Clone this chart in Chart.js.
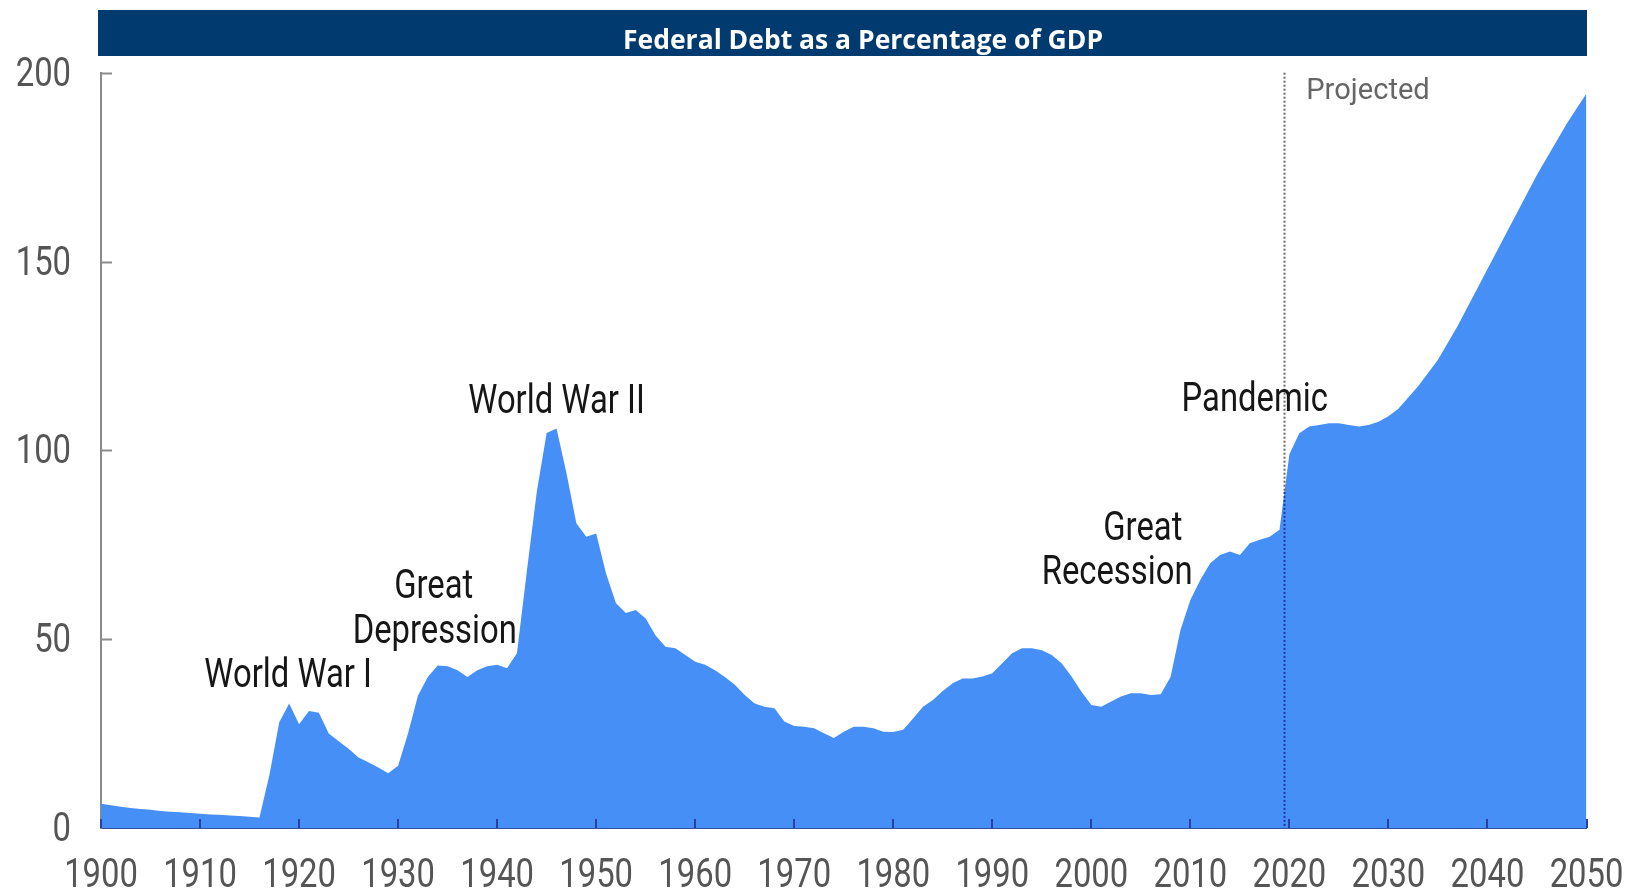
<!DOCTYPE html>
<html>
<head>
<meta charset="utf-8">
<title>Federal Debt as a Percentage of GDP</title>
<script src="https://cdn.jsdelivr.net/npm/chart.js@4/dist/chart.umd.min.js"></script>
<style>
  html, body { margin: 0; padding: 0; background: #ffffff; }
  #wrap { width: 1629px; height: 889px; }
</style>
</head>
<body>
<div id="wrap"><canvas id="debt" width="1629" height="889"></canvas></div>
<script>
// Federal debt held by the public, percent of GDP
const startYear = 1900;

// Actual, 1900-2019
const historical = [
  6.4, 6.0, 5.6, 5.3, 5.0, 4.8, 4.5, 4.3, 4.2, 4.0,          // 1900s
  3.8, 3.6, 3.5, 3.3, 3.2, 3.0, 2.8, 14, 28, 33,              // 1910s
  27.5, 31, 30.5, 25, 23, 21, 18.7, 17.4, 16, 14.5,           // 1920s
  16.5, 25, 35, 40, 43, 42.8, 41.8, 40, 41.8, 42.8,           // 1930s
  43.2, 42.3, 46.3, 68, 89, 104.6, 105.8, 94, 80.7, 77.1,     // 1940s
  78, 67.4, 59.5, 56.9, 57.7, 55.5, 51, 48, 47.6, 45.8,       // 1950s
  44, 43.2, 41.8, 40, 37.9, 35.2, 33, 32.1, 31.7, 28.2,       // 1960s
  27, 26.8, 26.4, 25.1, 23.8, 25.5, 26.8, 26.8, 26.4, 25.5,   // 1970s
  25.4, 26, 29, 32.1, 33.9, 36.3, 38.3, 39.6, 39.6, 40.1,     // 1980s
  41, 43.6, 46.3, 47.6, 47.6, 47.1, 45.8, 43.6, 40.1, 36.1,   // 1990s
  32.6, 32.1, 33.5, 34.8, 35.7, 35.7, 35.2, 35.4, 40, 52.4,   // 2000s
  60.4, 65.7, 70.1, 72.3, 73.2, 72.3, 75.4, 76.3, 77.1, 79    // 2010s
];

// Projected, 2020-2050
const projected = [
  99, 104.5, 106.3, 106.7, 107.2, 107.2, 106.7, 106.3, 106.7, 107.6,
  109, 111, 114, 117, 120.5, 124, 128.5, 133, 138, 143,
  148, 153, 158, 163, 168, 173, 177.5, 182, 186.5, 190.5,
  194.5
];

const projectionStart = 2019.5;

const xTicks = [1900, 1910, 1920, 1930, 1940, 1950, 1960, 1970, 1980, 1990,
                2000, 2010, 2020, 2030, 2040, 2050];
const yTicks = [0, 50, 100, 150, 200];

const titleText = 'Federal Debt as a Percentage of GDP';

// Event labels, anchored in chart units (year, percent of GDP)
const eventLabels = [
  { text: 'World War I',  year: 1918.9, pct: 40.2 },
  { text: 'Great',        year: 1933.6, pct: 63.8 },
  { text: 'Depression',   year: 1933.7, pct: 52.0 },
  { text: 'World War II', year: 1946.0, pct: 112.8 },
  { text: 'Great',        year: 2005.2, pct: 79.3 },
  { text: 'Recession',    year: 2002.6, pct: 67.4 },
  { text: 'Pandemic',     year: 2016.5, pct: 113.3 }
];
const projectedLabel = { text: 'Projected', year: 2021.7, pct: 195.0 };

const series = historical.concat(projected);
const points = series.map((v, i) => ({ x: startYear + i, y: v }));

const FILL = 'rgb(69,143,247)';
const NAVY = '#003a6e';
const LABEL_FONT = '40px Roboto, "Liberation Sans", sans-serif';
const NARROW_X = 0.82;   // horizontal squeeze for the condensed lettering

const zeroPadding = s => { s.paddingTop = 0; s.paddingBottom = 0; s.paddingLeft = 0; s.paddingRight = 0; };

// draws text squeezed horizontally around its anchor
function narrowText(c, text, x, y, align, sx) {
  c.save();
  c.translate(x, y);
  c.scale(sx, 1);
  c.textAlign = align;
  c.fillText(text, 0, 0);
  c.restore();
}

const decor = {
  id: 'decor',
  beforeDraw(chart) {
    const c = chart.ctx;
    c.save();
    c.fillStyle = '#ffffff';
    c.fillRect(0, 0, chart.width, chart.height);
    // title banner
    c.fillStyle = NAVY;
    c.fillRect(98, 10, 1489, 46);
    c.fillStyle = '#ffffff';
    c.font = 'bold 26.5px "Open Sans", sans-serif';
    c.textAlign = 'center';
    c.textBaseline = 'middle';
    c.fillText(titleText, 863, 41);
    c.restore();
  },
  afterDatasetsDraw(chart) {
    const c = chart.ctx;
    const xs = chart.scales.x, ys = chart.scales.y;
    const area = chart.chartArea;
    c.save();

    // tick marks on the value axis, pointing into the plot
    c.strokeStyle = '#8a8a8a';
    c.lineWidth = 2;
    ys.ticks.forEach(t => {
      if (t.value === 0) return;
      const y = Math.round(ys.getPixelForValue(t.value)) + 0.5;
      c.beginPath();
      c.moveTo(area.left, y);
      c.lineTo(area.left + 11, y);
      c.stroke();
    });

    // decade tick marks on the year axis
    c.strokeStyle = '#2b3fa6';
    c.lineWidth = 2;
    xs.ticks.forEach(t => {
      const x = Math.round(xs.getPixelForValue(t.value));
      c.beginPath();
      c.moveTo(x, area.bottom);
      c.lineTo(x, area.bottom - 9);
      c.stroke();
    });

    // tick labels
    c.fillStyle = '#555555';
    c.font = LABEL_FONT;
    c.textBaseline = 'middle';
    ys.ticks.forEach(t => {
      narrowText(c, String(t.value), area.left - 30, ys.getPixelForValue(t.value) + 3, 'right', NARROW_X);
    });
    xs.ticks.forEach(t => {
      narrowText(c, String(t.value), xs.getPixelForValue(t.value), 877, 'center', NARROW_X);
    });

    // dotted line marking the start of the projection
    const meta = chart.getDatasetMeta(0).data;
    const px = xs.getPixelForValue(projectionStart);
    let surf = area.bottom;
    for (let i = 0; i < meta.length - 1; i++) {
      if (meta[i].x <= px && meta[i + 1].x >= px) {
        const t = (px - meta[i].x) / (meta[i + 1].x - meta[i].x);
        surf = meta[i].y + t * (meta[i + 1].y - meta[i].y);
        break;
      }
    }
    const lx = Math.round(px) + 0.5;
    c.lineWidth = 2;
    c.setLineDash([2, 2]);
    c.strokeStyle = '#6a6a6a';
    c.beginPath();
    c.moveTo(lx, area.top);
    c.lineTo(lx, surf);
    c.stroke();
    c.strokeStyle = '#1e35b4';
    c.beginPath();
    c.moveTo(lx, surf);
    c.lineTo(lx, area.bottom);
    c.stroke();
    c.setLineDash([]);

    // event labels
    c.fillStyle = '#161616';
    c.font = LABEL_FONT;
    c.textBaseline = 'middle';
    eventLabels.forEach(l => {
      narrowText(c, l.text, xs.getPixelForValue(l.year), ys.getPixelForValue(l.pct) + 1, 'center', NARROW_X);
    });

    c.fillStyle = '#666666';
    c.font = '30px Roboto, sans-serif';
    narrowText(c, projectedLabel.text, xs.getPixelForValue(projectedLabel.year), ys.getPixelForValue(projectedLabel.pct), 'left', 0.97);
    c.restore();
  }
};

new Chart(document.getElementById('debt'), {
  type: 'line',
  data: {
    datasets: [{
      data: points,
      fill: 'origin',
      backgroundColor: FILL,
      borderColor: FILL,
      borderWidth: 0,
      pointRadius: 0,
      tension: 0
    }]
  },
  options: {
    responsive: false,
    animation: false,
    events: [],
    layout: { padding: { left: 0, top: 72.7, right: 42.5, bottom: 0 } },
    plugins: {
      legend: { display: false },
      tooltip: { enabled: false },
      title: { display: false }
    },
    scales: {
      x: {
        type: 'linear',
        min: 1900,
        max: 2050,
        afterBuildTicks: s => { s.ticks = xTicks.map(v => ({ value: v })); },
        afterFit: s => { s.height = 61; zeroPadding(s); },
        grid: { display: false, drawTicks: false },
        border: { display: true, color: '#3a4f9a', width: 2 },
        ticks: { display: false }
      },
      y: {
        min: 0,
        max: 200,
        afterBuildTicks: s => { s.ticks = yTicks.map(v => ({ value: v })); },
        afterFit: s => { s.width = 101; zeroPadding(s); },
        grid: { display: false, drawTicks: false },
        border: { display: true, color: '#8a8a8a', width: 2 },
        ticks: { display: false }
      }
    }
  },
  plugins: [decor]
});
</script>
</body>
</html>
